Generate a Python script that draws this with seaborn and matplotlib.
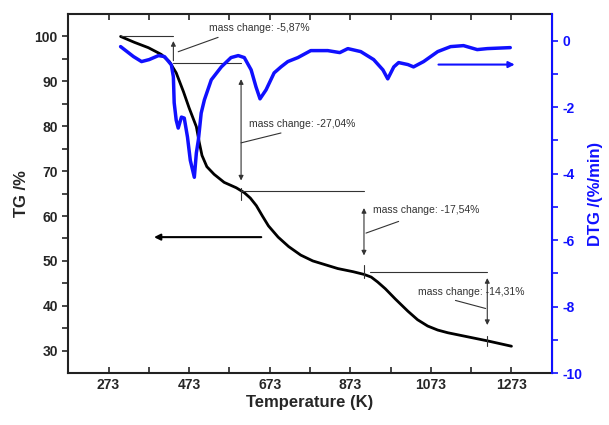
import seaborn as sns
import matplotlib.pyplot as plt
import pandas as pd

# TG curve (temperature K, mass %)
tg_temp = [303, 337, 372, 404, 424, 441, 459, 473, 491, 498, 505, 517, 535, 560,
           590, 610, 625, 640, 655, 670, 694, 720, 750, 780, 842, 880, 907, 925,
           941, 960, 985, 1016, 1040, 1065, 1090, 1115, 1164, 1213, 1273]
tg_mass = [100.0, 98.7, 97.5, 96.0, 94.4, 91.9, 87.7, 84.1, 79.9, 76.5, 73.5, 71.0,
           69.3, 67.5, 66.3, 65.2, 64.0, 62.3, 60.0, 57.8, 55.3, 53.2, 51.3, 50.0,
           48.3, 47.6, 47.0, 46.4, 45.3, 43.8, 41.5, 38.8, 36.9, 35.5, 34.6, 34.0,
           33.1, 32.2, 31.0]

# DTG curve (temperature K, %/min)
dtg_temp = [303, 335, 355, 374, 397, 412, 429, 434, 436, 441, 446, 454, 461, 469,
            476, 486, 491, 496, 503, 511, 528, 553, 577, 595, 610, 627, 639, 649,
            664, 684, 701, 718, 743, 775, 817, 847, 867, 899, 931, 954, 966, 981,
            993, 1016, 1030, 1055, 1090, 1122, 1154, 1188, 1213, 1270]
dtg_rate = [-0.18, -0.48, -0.63, -0.57, -0.45, -0.48, -0.73, -1.09, -1.87, -2.39,
            -2.63, -2.30, -2.33, -2.90, -3.60, -4.11, -3.38, -2.99, -2.18, -1.78,
            -1.18, -0.79, -0.51, -0.45, -0.51, -0.88, -1.39, -1.75, -1.48, -0.97,
            -0.79, -0.63, -0.51, -0.30, -0.30, -0.36, -0.24, -0.33, -0.57, -0.88,
            -1.15, -0.79, -0.66, -0.72, -0.79, -0.63, -0.33, -0.18, -0.15, -0.27,
            -0.24, -0.21]

# mass-loss steps: vertical arrow temperature, upper and lower TG level, label
step_temp = [434, 602, 907, 1213]
step_top = [100.0, 94.0, 65.5, 47.6]
step_bottom = [94.0, 65.5, 47.6, 32.2]
step_labels = ['mass change: -5,87%', 'mass change: -27,04%',
               'mass change: -17,54%', 'mass change: -14,31%']

tg = pd.DataFrame({'T': tg_temp, 'TG': tg_mass})
dtg = pd.DataFrame({'T': dtg_temp, 'DTG': dtg_rate})

sns.set_style('ticks')
plt.rcParams['font.family'] = ['Liberation Sans', 'DejaVu Sans']
plt.rcParams['axes.unicode_minus'] = False

fig = plt.figure(figsize=(6.09, 4.25), dpi=100)
ax = fig.add_axes([0.112, 0.122, 0.794, 0.845])
ax2 = ax.twinx()

sns.lineplot(data=tg, x='T', y='TG', ax=ax, color='black', linewidth=2)
sns.lineplot(data=dtg, x='T', y='DTG', ax=ax2, color='#1010ff', linewidth=2.5)

ax.set_xlim(173, 1373)
ax.set_ylim(25, 105)
ax2.set_ylim(-10, 0.8)

ax.set_xticks([273, 473, 673, 873, 1073, 1273])
ax.set_xticks([373, 573, 773, 973, 1173], minor=True)
ax.set_yticks(range(30, 101, 10))
ax.set_yticks(range(35, 101, 10), minor=True)
ax2.set_yticks(range(-10, 1, 2))
ax2.set_yticks(range(-9, 1, 2), minor=True)

ax.tick_params(axis='x', which='both', direction='in', top=True, length=4, width=1.2)
ax.tick_params(axis='y', which='both', direction='out', length=4, width=1.2)
ax.tick_params(labelsize=10)
ax2.tick_params(axis='y', which='both', direction='out', length=4, width=1.2,
                colors='#1010ff', labelsize=10)
for lab in ax.get_xticklabels() + ax.get_yticklabels() + ax2.get_yticklabels():
    lab.set_fontweight('bold')

for sp in ['left', 'bottom', 'top']:
    ax.spines[sp].set_linewidth(1.5)
    ax.spines[sp].set_color('#222222')
ax2.spines['right'].set_color('#1010ff')
ax2.spines['right'].set_linewidth(1.5)
for sp in ['left', 'bottom', 'top']:
    ax2.spines[sp].set_visible(False)

ax.set_xlabel('Temperature (K)', fontsize=12, fontweight='bold', labelpad=2)
ax.set_ylabel('TG /%', fontsize=12, fontweight='bold', labelpad=4)
ax2.set_ylabel('DTG /(%/min)', fontsize=12, fontweight='bold', color='#1010ff', labelpad=4)

# step annotations
line_kw = dict(color='#333333', linewidth=0.8)
ax.plot([tg_temp[0], step_temp[0]], [step_top[0], step_top[0]], **line_kw)
ax.annotate('', xy=(step_temp[0], 99.6), xytext=(step_temp[0], step_bottom[0]),
            arrowprops=dict(arrowstyle='-|>', color='#333333', lw=0.8, mutation_scale=7))
ax.plot([step_temp[0], step_temp[1]], [step_bottom[0], step_bottom[0]], **line_kw)

ax.annotate('', xy=(step_temp[1], 91.1), xytext=(step_temp[1], 67.3),
            arrowprops=dict(arrowstyle='<|-|>', color='#333333', lw=0.8, mutation_scale=7))
ax.plot([step_temp[1], step_temp[1]], [66.3, 63.5], **line_kw)
ax.plot([step_temp[1], step_temp[2]], [step_bottom[1], step_bottom[1]], **line_kw)

ax.annotate('', xy=(step_temp[2], 62.4), xytext=(step_temp[2], 50.6),
            arrowprops=dict(arrowstyle='<|-|>', color='#333333', lw=0.8, mutation_scale=7))
ax.plot([step_temp[2], step_temp[2]], [49.0, 46.3], **line_kw)
ax.plot([921, step_temp[3]], [step_bottom[2], step_bottom[2]], **line_kw)

ax.annotate('', xy=(step_temp[3], 46.8), xytext=(step_temp[3], 35.1),
            arrowprops=dict(arrowstyle='<|-|>', color='#333333', lw=0.8, mutation_scale=7))
ax.plot([step_temp[3], step_temp[3]], [33.3, 31.1], **line_kw)

text_pos = [(523, 101.8), (622, 80.5), (929, 61.3), (1040, 43.0)]
leaders = [((446, 96.6), (545, 99.8)), ((602, 76.3), (701, 78.5)),
           ((912, 56.2), (993, 58.8)), ((1134, 41.2), (1209, 39.4))]
for lbl, (tx, ty), (p0, p1) in zip(step_labels, text_pos, leaders):
    ax.text(tx, ty, lbl, fontsize=7.5, color='#333333', va='center', ha='left')
    ax.plot([p0[0], p1[0]], [p0[1], p1[1]], **line_kw)

# direction arrows
ax.annotate('', xy=(379, 55.3), xytext=(659, 55.3),
            arrowprops=dict(arrowstyle='-|>', color='black', lw=1.5, mutation_scale=9))
ax2.annotate('', xy=(1288, -0.72), xytext=(1085, -0.72),
             arrowprops=dict(arrowstyle='-|>', color='#1010ff', lw=1.5, mutation_scale=9))

fig.savefig('out.png', dpi=100)
